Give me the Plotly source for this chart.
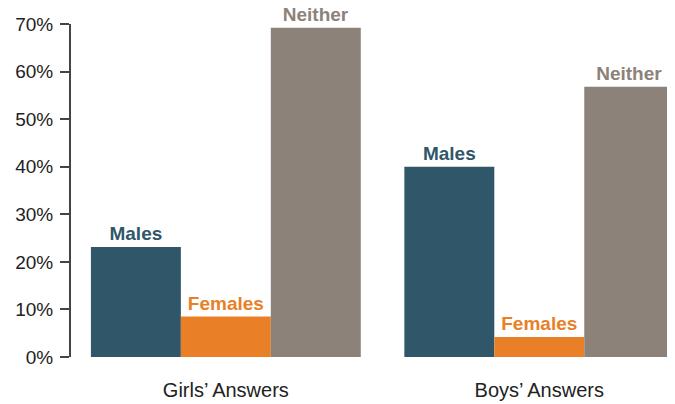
import plotly.graph_objects as go

categories = ["Girls’ Answers", "Boys’ Answers"]
series_names = ["Males", "Females", "Neither"]
males = [23.1, 40.0]
females = [8.5, 4.2]
neither = [69.2, 56.8]
colors = ["#30566A", "#E97F27", "#8C8279"]
y_ticks = [0, 10, 20, 30, 40, 50, 60, 70]

fig = go.Figure()
for name, vals, col in zip(series_names, [males, females, neither], colors):
    fig.add_trace(go.Bar(
        x=[0, 1], y=vals, name=name, marker=dict(color=col, line=dict(width=0)),
        text=[name, name], textposition="outside", cliponaxis=False,
        textfont=dict(family="Liberation Sans", size=19, color=col, weight="bold"),
        hoverinfo="skip",
    ))

fig.update_layout(
    width=667, height=396,
    margin=dict(l=63, r=0, t=16, b=47),
    paper_bgcolor="white", plot_bgcolor="white",
    barmode="group", bargap=0.139, bargroupgap=0,
    showlegend=False,
    uniformtext=dict(mode=False),
    font=dict(family="Liberation Sans", color="#222222"),
)
fig.update_xaxes(
    tickmode="array", tickvals=[0, 1], ticktext=categories,
    range=[-0.494, 1.433], showline=False, showgrid=False, zeroline=False,
    ticks="", tickfont=dict(size=20, color="#222222"), ticklabelstandoff=19,
    automargin=False,
)
fig.update_yaxes(
    range=[0, 70], tickvals=y_ticks, ticktext=[f"{v}%" for v in y_ticks],
    showline=True, linecolor="#444444", linewidth=2,
    ticks="outside", ticklen=9, tickwidth=2, tickcolor="#444444",
    showgrid=False, zeroline=False,
    tickfont=dict(size=19, color="#222222"), ticklabelstandoff=3,
    automargin=False,
)

fig.write_html("out.html")
